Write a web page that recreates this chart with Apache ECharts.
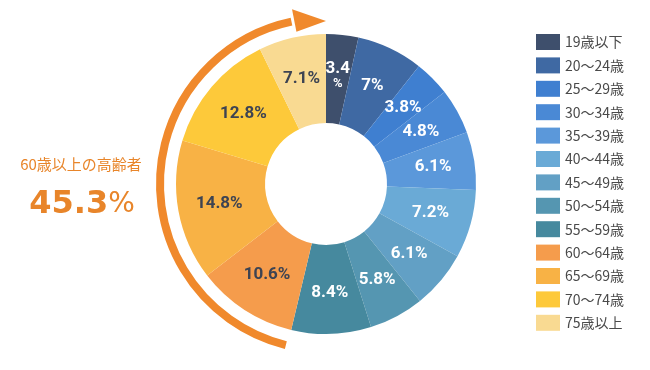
<!DOCTYPE html>
<html><head><meta charset="utf-8">
<script src="https://cdn.jsdelivr.net/npm/echarts@6/dist/echarts.min.js"></script>
<style>html,body{margin:0;padding:0;background:#fff}#c{width:650px;height:370px}</style>
</head><body><div id="c"></div>
<script>
const categories = ['19歳以下','20〜24歳','25〜29歳','30〜34歳','35〜39歳','40〜44歳','45〜49歳','50〜54歳','55〜59歳','60〜64歳','65〜69歳','70〜74歳','75歳以上'];
const shares = [3.4, 7, 3.8, 4.8, 6.1, 7.2, 6.1, 5.8, 8.4, 10.6, 14.8, 12.8, 7.1];
const seniorTitle = '60歳以上の高齢者';
const seniorShare = '45.3';

const palette = ['#3e4f6c','#3f69a3','#3f7fd0','#4a89d5','#5b98da','#6aaad6','#62a0c5','#5596b1','#46899e','#f59c4c','#f8b245','#fdc93a','#f9da92'];
const darkLabelFrom = 9;

const cx = 326, cy = 184, R = 150, r0 = 61;
const arcR = 166;
function pt(deg, rad) { const a = deg * Math.PI / 180; return [cx + rad * Math.sin(a), cy - rad * Math.cos(a)]; }

const chart = echarts.init(document.getElementById('c'), null, {renderer: 'canvas'});
chart.setOption({
  animation: false,
  color: palette,
  legend: {
    orient: 'vertical', left: 536, top: 34, padding: 0,
    itemWidth: 24, itemHeight: 16, itemGap: 7.4,
    icon: 'rect',
    textStyle: {fontFamily: '"Noto Sans CJK JP"', fontSize: 14, color: '#4a4a4a'},
    data: categories
  },
  graphic: [
    {type: 'arc', silent: true,
     shape: {cx: cx, cy: cy, r: arcR, startAngle: 104 * Math.PI / 180, endAngle: 258 * Math.PI / 180, clockwise: true},
     style: {stroke: '#f0892c', lineWidth: 8, fill: null}},
    {type: 'polygon', silent: true,
     shape: {points: [pt(-11, 178), pt(0, 163), pt(-11, 155)]},
     style: {fill: '#f0892c'}},
    {type: 'text', silent: true, x: 81, y: 164,
     style: {text: seniorTitle, fill: '#e8852a', font: '15px "Noto Sans CJK JP"', align: 'center', verticalAlign: 'middle'}},
    {type: 'text', silent: true, x: 82, y: 205,
     style: {
       text: '{a|' + seniorShare + '}{b|%}',
       align: 'center', verticalAlign: 'middle',
       rich: {
         a: {fontFamily: '"DejaVu Sans"', fontWeight: 'bold', fontSize: 32, fill: '#e8852a', color: '#e8852a'},
         b: {fontFamily: '"DejaVu Sans"', fontWeight: 'normal', fontSize: 28, fill: '#e8852a', color: '#e8852a'}
       }
     }}
  ],
  series: [{
    type: 'pie',
    center: [cx, cy],
    radius: [r0, R],
    startAngle: 90,
    clockwise: true,
    avoidLabelOverlap: false,
    itemStyle: {borderWidth: 0},
    emphasis: {disabled: true},
    label: {
      show: true, position: 'inside',
      fontFamily: 'Roboto', fontWeight: 'bold', fontSize: 17,
      lineHeight: 15,
      formatter: p => p.dataIndex === 0 ? p.value + '\n{s|%}' : p.value + '%',
      rich: {s: {fontFamily: 'Roboto', fontWeight: 'bold', fontSize: 13, lineHeight: 15}}
    },
    labelLine: {show: false},
    data: categories.map((n, i) => ({
      name: n, value: shares[i],
      label: {color: i >= darkLabelFrom ? '#3d4352' : '#ffffff', rich: {s: {color: i >= darkLabelFrom ? '#3d4352' : '#ffffff'}}}
    }))
  }]
});
</script></body></html>
